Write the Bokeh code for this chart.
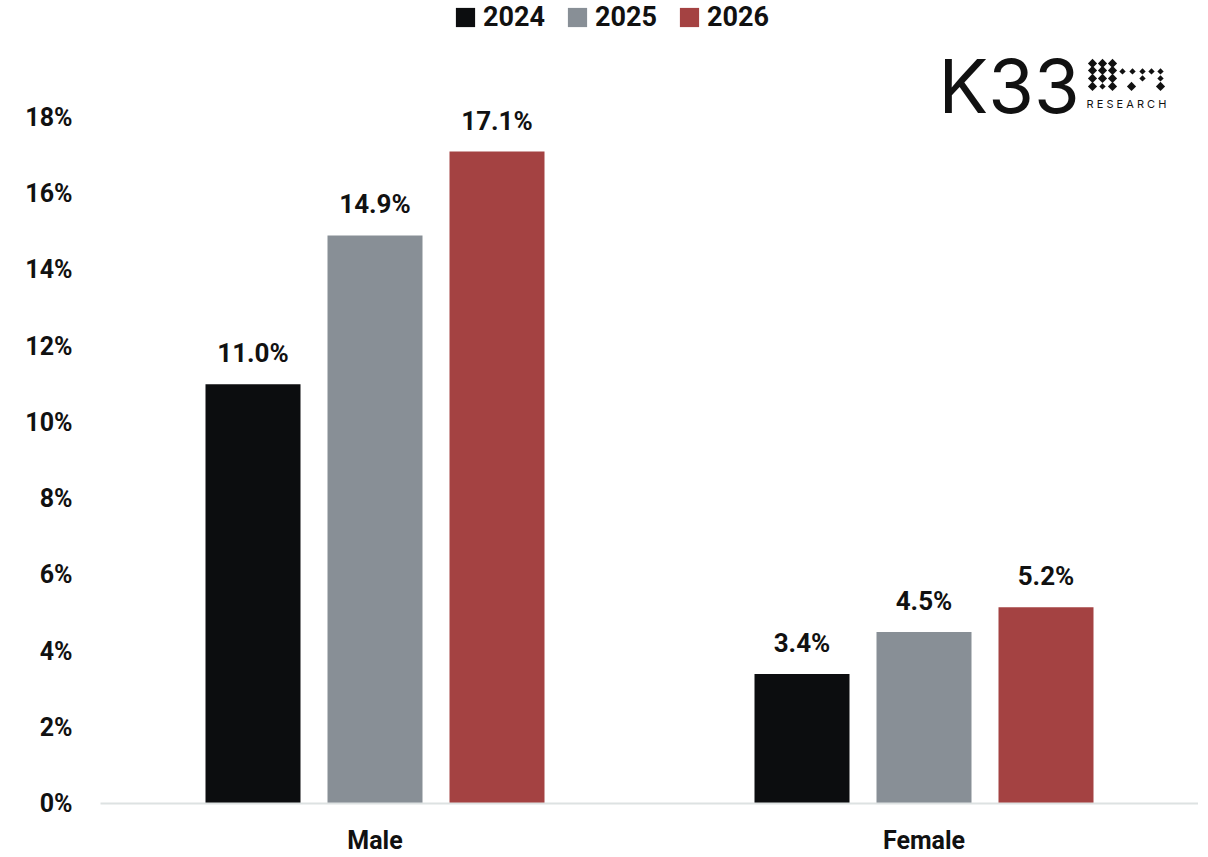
import math
from bokeh.plotting import figure
from bokeh.models import ColumnDataSource, FactorRange, Range1d, FixedTicker, Legend, LegendItem, Label
from bokeh.transform import dodge
from bokeh.core.properties import value
from bokeh.embed import file_html
from bokeh.resources import INLINE

# ---- data ----
categories = ["Male", "Female"]
years = ["2024", "2025", "2026"]
v2024 = [11.0, 3.4]
v2025 = [14.9, 4.5]
v2026 = [17.1, 5.15]
colors = ["#0c0d0f", "#888f96", "#a44242"]
y_ticks = [0, 2, 4, 6, 8, 10, 12, 14, 16, 18]

FONT = "Roboto"
series = [v2024, v2025, v2026]

PX_PER_PCT = 38.17
Y_END = 804 / PX_PER_PCT

p = figure(x_range=FactorRange(*categories, range_padding=0), y_range=Range1d(0, Y_END),
           width=1198, height=857, output_backend="svg", toolbar_location=None,
           min_border_left=100, min_border_right=0, min_border_top=0, min_border_bottom=53)
p.outline_line_color = None
p.xgrid.visible = False
p.ygrid.visible = False
p.background_fill_color = "white"

px_per_unit = 549.0
offsets = [-122 / px_per_unit, 0.0, 122 / px_per_unit]
bw = 95 / px_per_unit

items = []
for yr, vals, col, off in zip(years, series, colors, offsets):
    src = ColumnDataSource(dict(x=categories, y=vals, lab=[f"{v:.1f}%" for v in vals]))
    r = p.vbar(x=dodge("x", off, range=p.x_range), top="y", width=bw, source=src,
               fill_color=col, line_color=None)
    p.text(x=dodge("x", off, range=p.x_range), y="y", text="lab", source=src,
           text_align="center", text_baseline="alphabetic", y_offset=-31,
           text_font=value(FONT), text_font_style="bold", text_font_size="26px",
           text_color="#111111")
    items.append(LegendItem(label=yr, renderers=[r]))

legend = Legend(items=items, orientation="horizontal", location=(353, 770),
                border_line_color=None, background_fill_alpha=0, margin=0, padding=0,
                glyph_width=24, glyph_height=24, label_standoff=6, spacing=20,
                label_text_font=FONT, label_text_font_style="bold",
                label_text_font_size="27px", label_text_color="#111111")
p.add_layout(legend, "center")

# axes
p.yaxis.ticker = FixedTicker(ticks=y_ticks)
p.yaxis.major_label_overrides = {t: f"{t}%" for t in y_ticks}
p.yaxis.axis_line_color = None
p.yaxis.major_tick_line_color = None
p.yaxis.minor_tick_line_color = None
p.yaxis.major_tick_out = 0
p.yaxis.major_label_standoff = 28
p.yaxis.major_label_text_font = FONT
p.yaxis.major_label_text_font_style = "bold"
p.yaxis.major_label_text_font_size = "25px"
p.yaxis.major_label_text_color = "#111111"

p.xaxis.axis_line_color = "#dde2e2"
p.xaxis.axis_line_width = 2
p.xaxis.major_tick_line_color = None
p.xaxis.minor_tick_line_color = None
p.xaxis.major_tick_out = 0
p.xaxis.major_label_standoff = 22
p.xaxis.major_label_text_font = FONT
p.xaxis.major_label_text_font_style = "bold"
p.xaxis.major_label_text_font_size = "25px"
p.xaxis.major_label_text_color = "#111111"

# logo (decoration), positioned in data units of the frame
def xd(px):
    return (px - 100) / px_per_unit

def yd(py):
    return (804 - py) / PX_PER_PCT

p.add_layout(Label(x=xd(938), y=yd(86), text="K33", text_font="Inter", text_font_size="74px",
                   text_color="#111111", text_baseline="alphabetic"))
p.add_layout(Label(x=xd(1086), y=yd(104), text="R E S E A R C H", text_font="Inter",
                   text_font_size="11px", text_color="#111111", text_baseline="alphabetic"))
dots_big = [(1092, 63), (1102, 63), (1112, 63),
            (1092, 70), (1102, 70), (1112, 70),
            (1092, 78), (1102, 78), (1112, 78),
            (1092, 86), (1112, 86), (1131, 86), (1160, 86)]
dots_small = [(1122, 71), (1132, 71), (1142, 71), (1151, 71), (1160, 71),
              (1102, 86), (1142, 78), (1160, 78)]
p.scatter(x=[xd(a) for a, b in dots_big], y=[yd(b) for a, b in dots_big], marker="square",
          angle=math.pi / 4, size=6.5, fill_color="#111111", line_color=None)
p.scatter(x=[xd(a) for a, b in dots_small], y=[yd(b) for a, b in dots_small], marker="square",
          angle=math.pi / 4, size=4.5, fill_color="#111111", line_color=None)

open("out.html", "w").write(file_html(p, INLINE))
